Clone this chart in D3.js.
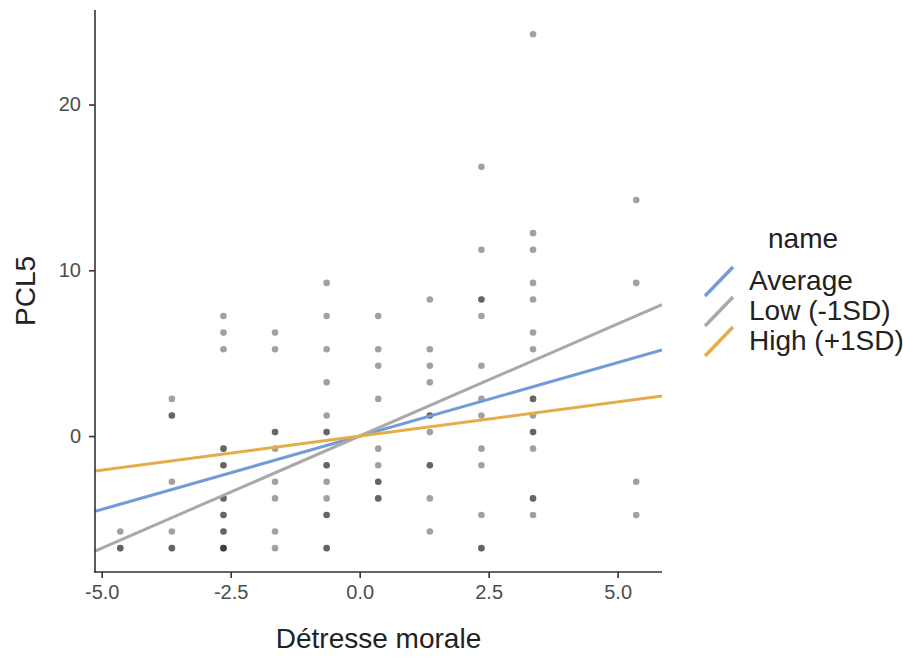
<!DOCTYPE html>
<html>
<head>
<meta charset="utf-8">
<script src="https://cdn.jsdelivr.net/npm/d3@7/dist/d3.min.js"></script>
<style>
  body { margin: 0; background: #fff; }
  text { font-family: "Liberation Sans", Arial, sans-serif; }
</style>
</head>
<body>
<div id="chart"></div>
<script>
// moral distress score (one column of points per value)
var detresse = [-4.64, -3.64, -2.64, -1.64, -0.64, 0.36, 1.36, 2.36, 3.36, 5.36];
// PCL5 values per column, repeated values = overlapping points
var pcl5 = [
    [-5.76, -6.76, -6.76],
    [2.24, 1.24, 1.24, -2.76, -5.76, -6.76, -6.76],
    [7.24, 6.24, 5.24, -0.76, -0.76, -1.76, -1.76, -3.76, -3.76, -4.76, -4.76, -5.76, -5.76, -6.76, -6.76, -6.76],
    [6.24, 5.24, 0.24, 0.24, -0.76, -2.76, -3.76, -5.76, -6.76],
    [9.24, 7.24, 5.24, 3.24, 1.24, 0.24, 0.24, -1.76, -1.76, -2.76, -3.76, -4.76, -4.76, -6.76, -6.76],
    [7.24, 5.24, 4.24, 2.24, -0.76, -1.76, -2.76, -2.76, -3.76, -3.76],
    [8.24, 5.24, 4.24, 3.24, 1.24, 1.24, 0.24, -1.76, -1.76, -3.76, -5.76],
    [16.24, 11.24, 8.24, 8.24, 7.24, 4.24, 2.24, 1.24, -0.76, -1.76, -4.76, -6.76, -6.76],
    [24.24, 12.24, 11.24, 9.24, 8.24, 6.24, 5.24, 2.24, 2.24, 1.24, 0.24, 0.24, -0.76, -3.76, -3.76, -4.76],
    [14.24, 9.24, -2.76, -4.76]
];
// simple slopes (intercept ~0)
var lineNames = ["Average", "Low (-1SD)", "High (+1SD)"];
var slopes = [0.886, 1.353, 0.412];
var intercepts = [0, 0, 0];
var lineColors = ["#729bd9", "#a9a9a9", "#e4ad48"];
var xTicks = [-5, -2.5, 0, 2.5, 5];
var yTicks = [0, 10, 20];

var svg = d3.select("#chart")
    .append("svg")
    .attr("width", 903)
    .attr("height", 657);

var pLeft = 95, pRight = 662, pTop = 10, pBottom = 572;
var x = d3.scaleLinear().domain([-5.13, 5.86]).range([pLeft, pRight]);
var y = d3.scaleLinear().domain([-8.2, 25.7]).range([pBottom, pTop]);

svg.append("defs").append("clipPath")
    .attr("id", "panel")
    .append("rect")
    .attr("x", pLeft)
    .attr("y", pTop)
    .attr("width", pRight - pLeft)
    .attr("height", pBottom - pTop);

// points
var pts = [];
detresse.forEach(function (d, i) {
    pcl5[i].forEach(function (v) { pts.push({ x: d, y: v }); });
});
svg.append("g")
    .selectAll("circle")
    .data(pts)
    .enter()
    .append("circle")
    .attr("cx", function (d) { return x(d.x); })
    .attr("cy", function (d) { return y(d.y); })
    .attr("r", 3.3)
    .attr("fill", "#000")
    .attr("fill-opacity", 0.37);

// regression lines
var dom = x.domain();
svg.append("g")
    .attr("clip-path", "url(#panel)")
    .selectAll("line")
    .data(lineNames)
    .enter()
    .append("line")
    .attr("x1", x(dom[0]))
    .attr("x2", x(dom[1]))
    .attr("y1", function (d, i) { return y(intercepts[i] + slopes[i] * dom[0]); })
    .attr("y2", function (d, i) { return y(intercepts[i] + slopes[i] * dom[1]); })
    .attr("stroke", function (d, i) { return lineColors[i]; })
    .attr("stroke-width", 3);

// axes
var fmt = d3.format(".1f");
var xAxis = svg.append("g")
    .attr("transform", "translate(0," + pBottom + ")")
    .call(d3.axisBottom(x).tickValues(xTicks)
        .tickFormat(function (d) { return fmt(d).replace("\u2212", "-"); })
        .tickSizeOuter(0).tickSize(6).tickPadding(7));
var yAxis = svg.append("g")
    .attr("transform", "translate(" + pLeft + ",0)")
    .call(d3.axisLeft(y).tickValues(yTicks).tickSizeOuter(0).tickSize(6).tickPadding(8));
[xAxis, yAxis].forEach(function (a) {
    a.select(".domain").attr("stroke", "#333").attr("stroke-width", 1.6);
    a.selectAll(".tick line").attr("stroke", "#333").attr("stroke-width", 1.6);
    a.selectAll(".tick text")
        .attr("font-family", "Liberation Sans, Arial, sans-serif")
        .attr("font-size", "20px")
        .attr("fill", "#4d4d4d");
});
// make the axis lines meet at the corner
xAxis.select(".domain").attr("d", "M" + (pLeft - 0.8) + ",0H" + pRight);
yAxis.select(".domain").attr("d", "M0," + pTop + "V" + (pBottom + 0.8));

svg.append("text")
    .attr("x", (pLeft + pRight) / 2)
    .attr("y", 648)
    .attr("text-anchor", "middle")
    .attr("font-size", "28px")
    .attr("fill", "#222")
    .text("Détresse morale");
svg.append("text")
    .attr("transform", "translate(35," + ((pTop + pBottom) / 2) + ") rotate(-90)")
    .attr("text-anchor", "middle")
    .attr("font-size", "28px")
    .attr("fill", "#222")
    .text("PCL5");

// legend
svg.append("text")
    .attr("x", 768)
    .attr("y", 248)
    .attr("font-size", "28px")
    .attr("fill", "#222")
    .text("name");
var leg = svg.append("g")
    .selectAll("g")
    .data(lineNames)
    .enter()
    .append("g")
    .attr("transform", function (d, i) { return "translate(0," + (i * 30) + ")"; });
leg.append("line")
    .attr("x1", 705)
    .attr("y1", 296)
    .attr("x2", 733)
    .attr("y2", 267)
    .attr("stroke", function (d, i) { return lineColors[i]; })
    .attr("stroke-width", 3.5);
leg.append("text")
    .attr("x", 749)
    .attr("y", 290)
    .attr("font-size", "28px")
    .attr("fill", "#222")
    .text(function (d) { return d; });
</script>
</body>
</html>
